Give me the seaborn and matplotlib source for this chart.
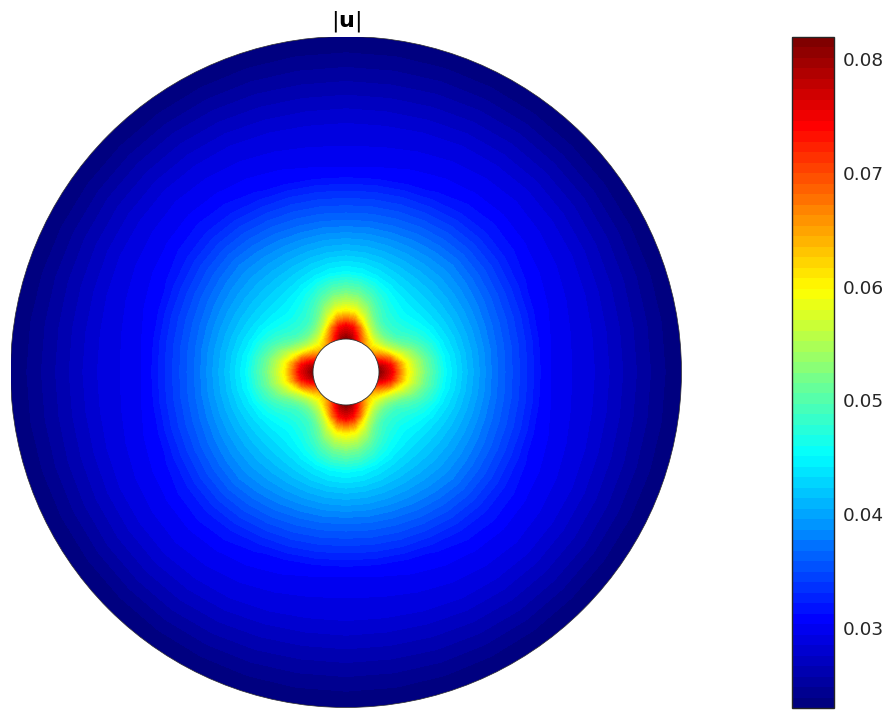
import numpy as np
import seaborn as sns
import matplotlib
import matplotlib.pyplot as plt
from matplotlib.colors import LinearSegmentedColormap
from matplotlib.patches import Circle

matplotlib.use('Agg')

# radial stations of the annulus and the field read along each spoke
radii = [33, 39, 46, 52, 61, 70, 79, 100, 120, 150, 185, 199, 221, 251, 291, 317, 337]
spoke_angles = [0, 9, 18, 27, 36, 45]
u_0 = [.0815, .0782, .0748, .0688, .0605, .0560, .0522, .0452, .0416, .0370, .0326, .0306, .0296, .0284, .0257, .0240, .0230]
u_9 = [.0795, .0768, .0730, .0672, .0596, .0552, .0516, .0449, .0415, .0371, .0327, .0307, .0297, .0284, .0257, .0240, .0230]
u_18 = [.0745, .0715, .0672, .0608, .0560, .0525, .0497, .0443, .0413, .0372, .0329, .0310, .0299, .0285, .0258, .0240, .0230]
u_27 = [.0690, .0655, .0598, .0555, .0515, .0493, .0475, .0437, .0411, .0374, .0331, .0314, .0301, .0287, .0259, .0240, .0230]
u_36 = [.0650, .0612, .0558, .0525, .0490, .0475, .0461, .0433, .0410, .0376, .0334, .0318, .0303, .0288, .0260, .0240, .0230]
u_45 = [.0630, .0592, .0548, .0515, .0485, .0470, .0455, .0432, .0410, .0378, .0335, .0320, .0304, .0289, .0260, .0240, .0230]

u_min = 0.02297
u_max = 0.08193
n_bands = 64
cbar_ticks = [0.03, 0.04, 0.05, 0.06, 0.07, 0.08]
title = r'$|\mathbf{u}|$'

sns.set_theme(style='white')

octant = np.column_stack([u_0, u_9, u_18, u_27, u_36, u_45])
quadrant = np.hstack([octant, octant[:, -2::-1]])
field = np.hstack([quadrant, quadrant[:, 1:], quadrant[:, 1:], quadrant[:, 1:]])
theta = np.deg2rad(np.arange(field.shape[1]) * spoke_angles[1])
rr, tt = np.meshgrid(radii, theta, indexing='ij')
xx = rr * np.cos(tt)
yy = rr * np.sin(tt)

# matlab flavour of jet, matplotlib's own has its cyan and yellow elsewhere
jet = LinearSegmentedColormap.from_list('matlab_jet', [
    (0, (0, 0, 0.5)), (1 / 8, (0, 0, 1)), (3 / 8, (0, 1, 1)),
    (5 / 8, (1, 1, 0)), (7 / 8, (1, 0, 0)), (1, (0.5, 0, 0))], N=256)
band_colors = jet(np.linspace(0, 1, n_bands))
levels = np.linspace(u_min, u_max, n_bands + 1)

fig = plt.figure(figsize=(8.93, 7.19), dpi=100)
ax = fig.add_axes([10.5 / 893, 11.5 / 719, 671 / 893, 671 / 719])
cax = fig.add_axes([792 / 893, 11 / 719, 42 / 893, 671 / 719])

cs = ax.contourf(xx, yy, field, levels=levels, colors=band_colors)
rim = Circle((0, 0), 335.5, facecolor='none', edgecolor='#303030', linewidth=0.5)
ax.add_patch(rim)
cs.set_clip_path(rim)
ax.add_patch(Circle((0, 0), 33, facecolor='white', edgecolor='#303030', linewidth=0.6, zorder=3))
ax.set_xlim(-335.5, 335.5)
ax.set_ylim(-335.5, 335.5)
ax.set_aspect('equal')
ax.axis('off')
ax.text(0, 351, title, ha='center', va='center', fontsize=16, color='black')

cbar = fig.colorbar(cs, cax=cax)
cbar.set_ticks(cbar_ticks)
cbar.ax.set_yticklabels([f'{t:.2f}' for t in cbar_ticks])
cbar.ax.tick_params(axis='y', direction='in', right=True, length=5, width=0.8, pad=6,
                    labelsize=13.3, colors='#262626')
cbar.outline.set_edgecolor('#262626')
cbar.outline.set_linewidth(1)

plt.savefig('out.png', dpi=100)
plt.close()
